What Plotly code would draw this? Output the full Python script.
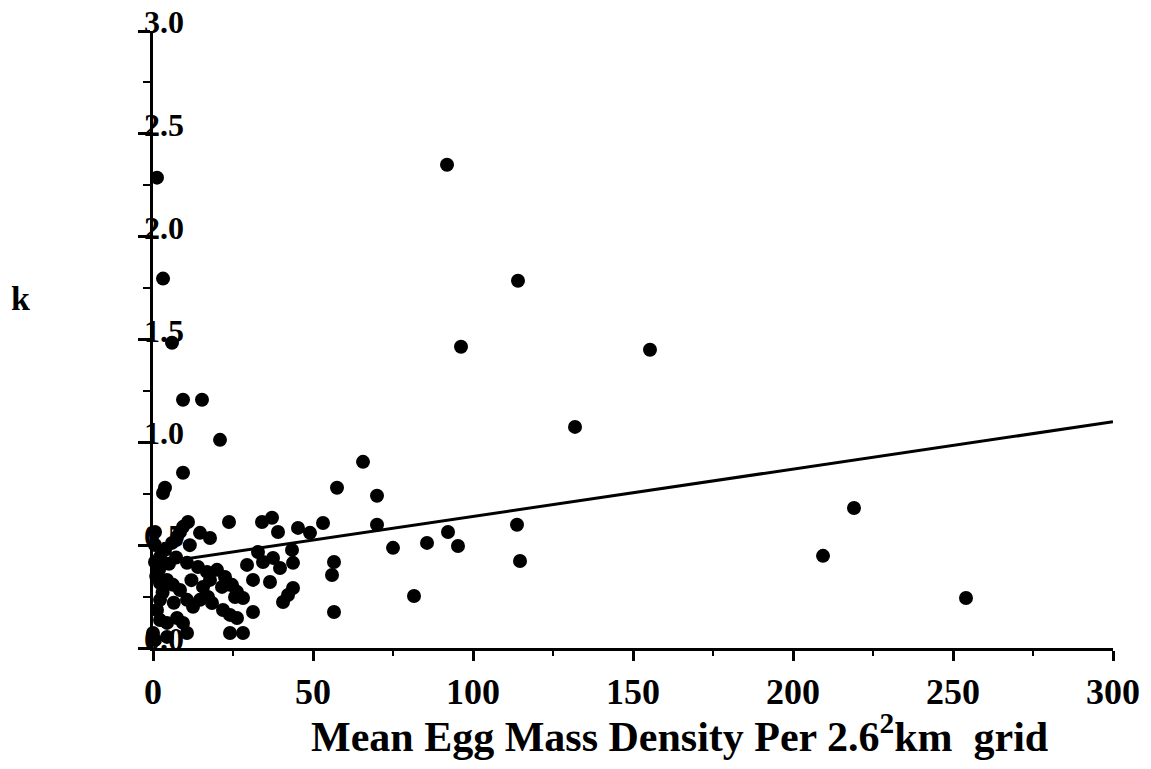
import plotly.graph_objects as go

# Scatter data: mean egg mass density (x) vs k (y)
density = [1.25, 3.13, 5.94, 9.38, 15.31, 20.94, 9.38, 3.75, 3.13, 23.75,
           10.94, 9.38, 8.44, 7.5, 14.69, 17.81, 0.63, 0.63, 3.75, 2.19,
           0.63, 5.94, 10.63, 14.06, 16.88, 17.81, 20.0, 22.5, 24.06, 21.56,
           26.25, 15.63, 17.19, 18.44, 21.88, 24.06, 26.25, 2.19, 4.38, 6.25,
           8.44, 10.63, 12.5, 14.69, 2.19, 1.25, 2.19, 4.38, 7.5, 9.38,
           10.63, 0.0, 0.63, 4.38, 24.06, 28.13, 34.06, 37.19, 39.06, 45.31,
           49.06, 53.13, 32.81, 34.38, 37.5, 39.69, 43.44, 43.75, 29.38, 31.25,
           36.56, 24.69, 25.63, 28.13, 31.25, 43.75, 42.19, 40.63, 65.63, 57.5,
           70.0, 70.0, 75.0, 85.63, 56.56, 55.94, 81.56, 56.56, 91.88, 114.06,
           96.25, 155.31, 131.88, 219.06, 209.38, 254.06, 113.75, 114.69, 95.31, 92.19,
           1.9, 5.0, 7.2, 12.0, 3.0, 6.5, 11.5, 1.0]
k_values = [2.287, 1.796, 1.484, 1.207, 1.207, 1.012, 0.852, 0.779, 0.754, 0.613,
            0.613, 0.589, 0.564, 0.540, 0.560, 0.535, 0.564, 0.501, 0.477, 0.443,
            0.418, 0.511, 0.414, 0.394, 0.370, 0.331, 0.380, 0.345, 0.307, 0.297,
            0.273, 0.297, 0.248, 0.219, 0.185, 0.161, 0.146, 0.316, 0.331, 0.307,
            0.282, 0.234, 0.200, 0.234, 0.234, 0.185, 0.136, 0.122, 0.146, 0.122,
            0.073, 0.073, 0.039, 0.054, 0.073, 0.073, 0.613, 0.633, 0.564, 0.584,
            0.560, 0.608, 0.467, 0.418, 0.438, 0.389, 0.477, 0.414, 0.404, 0.331,
            0.321, 0.307, 0.248, 0.243, 0.175, 0.292, 0.258, 0.224, 0.905, 0.779,
            0.740, 0.599, 0.487, 0.511, 0.418, 0.355, 0.253, 0.175, 2.350, 1.786,
            1.465, 1.450, 1.075, 0.681, 0.448, 0.243, 0.599, 0.423, 0.496, 0.564,
            0.380, 0.410, 0.440, 0.330, 0.270, 0.220, 0.500, 0.350]

# Regression line endpoints
fit_x = [0, 300]
fit_y = [0.41, 1.10]

x_tick_vals = [0, 50, 100, 150, 200, 250, 300]
y_tick_vals = [0.0, 0.5, 1.0, 1.5, 2.0, 2.5, 3.0]
y_tick_text = ["0.0", "0.5", "1.0", "1.5", "2.0", "2.5", "3.0"]

FONT = "Liberation Serif"
W, H = 1151, 769
L, R, T, B = 153, 38, 31, 121
PW, PH = W - L - R, H - T - B

fig = go.Figure()
fig.add_trace(go.Scatter(x=density, y=k_values, mode="markers",
                         marker=dict(color="black", size=14, line=dict(width=0)),
                         showlegend=False, cliponaxis=False))
fig.add_trace(go.Scatter(x=fit_x, y=fit_y, mode="lines",
                         line=dict(color="black", width=3),
                         showlegend=False))

for v, t in zip(y_tick_vals, y_tick_text):
    fig.add_annotation(x=0, y=v, xref="x", yref="y", text=t, showarrow=False,
                       xanchor="center", yanchor="middle", xshift=11, yshift=9,
                       font=dict(family=FONT, size=32, color="black", weight="bold"))

# y-axis title "k"
fig.add_annotation(x=(20 - L) / PW, y=(H - B - 298) / PH, xref="paper", yref="paper",
                   text="k", showarrow=False, xanchor="center", yanchor="middle",
                   font=dict(family=FONT, size=34, color="black", weight="bold"))

# x-axis title
fig.add_annotation(x=(679 - L) / PW, y=(H - B - 733) / PH, xref="paper", yref="paper",
                   text="Mean Egg Mass Density Per 2.6<sup>2</sup>km&nbsp; grid",
                   showarrow=False, xanchor="center", yanchor="middle",
                   font=dict(family=FONT, size=42, color="black", weight="bold"))

fig.update_layout(
    width=W, height=H,
    margin=dict(l=L, r=R, t=T, b=B),
    paper_bgcolor="white", plot_bgcolor="white",
    font=dict(family=FONT, color="black", weight="bold"),
)

fig.update_xaxes(range=[0, 300], tickvals=x_tick_vals, ticks="outside", ticklen=10,
                 tickwidth=3, tickcolor="black", showline=True, linecolor="black",
                 linewidth=3, showgrid=False, zeroline=False,
                 minor=dict(dtick=25, tick0=0, ticks="outside", ticklen=5, tickwidth=2, tickcolor="black"),
                 tickfont=dict(family=FONT, size=36, color="black", weight="bold"))
fig.update_yaxes(range=[0, 3.0], tickvals=y_tick_vals, ticks="outside", ticklen=12,
                 tickwidth=3, tickcolor="black", showline=True, linecolor="black",
                 linewidth=3, showgrid=False, zeroline=False, showticklabels=False,
                 minor=dict(dtick=0.25, tick0=0, ticks="outside", ticklen=7, tickwidth=2, tickcolor="black"))

fig.write_html("out.html")
